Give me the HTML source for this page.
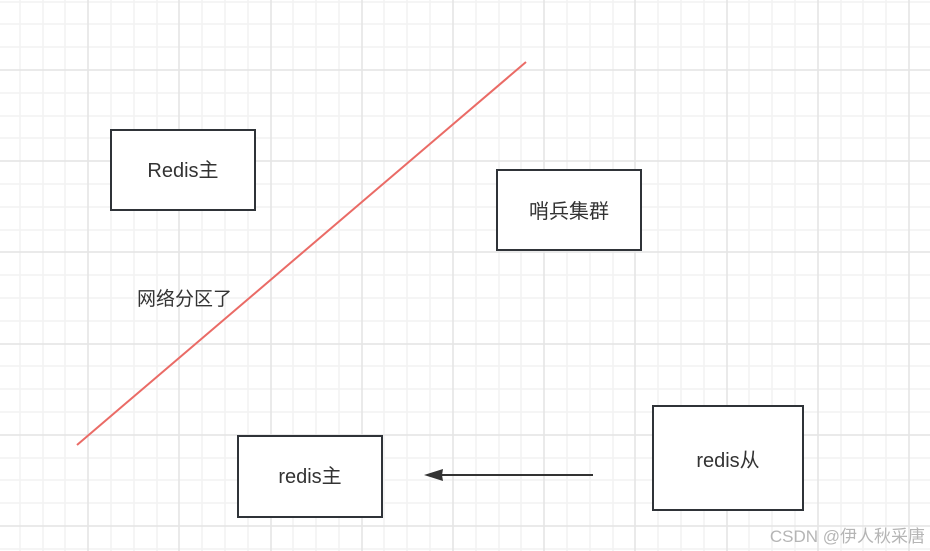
<!DOCTYPE html>
<html><head><meta charset="utf-8"><style>
html,body{margin:0;padding:0;background:#fff;width:930px;height:551px;overflow:hidden}
svg text{font-family:"Liberation Sans","Noto Sans CJK SC",sans-serif}
</style></head><body>
<svg width="930" height="551" xmlns="http://www.w3.org/2000/svg">
<rect width="930" height="551" fill="#fff"/>
<path stroke="#f2f2f2" stroke-width="1.5" fill="none" d="
M20 0V551M43 0V551M65 0V551M111 0V551M134 0V551M157 0V551M202 0V551M225 0V551M248 0V551M293 0V551M316 0V551M339 0V551M384 0V551M407 0V551M430 0V551M476 0V551M499 0V551M521 0V551M567 0V551M590 0V551M613 0V551M658 0V551M681 0V551M704 0V551M749 0V551M772 0V551M795 0V551M841 0V551M863 0V551M886 0V551
M0 2H930M0 24H930M0 47H930M0 93H930M0 116H930M0 138H930M0 184H930M0 207H930M0 230H930M0 275H930M0 298H930M0 321H930M0 366H930M0 389H930M0 412H930M0 458H930M0 480H930M0 503H930M0 549H930"/>
<path stroke="#e4e4e4" stroke-width="1.5" fill="none" d="
M88 0V551M179 0V551M271 0V551M362 0V551M453 0V551M544 0V551M635 0V551M727 0V551M818 0V551M909 0V551
M0 70H930M0 161H930M0 252H930M0 344H930M0 435H930M0 526H930"/>
<g fill="#fff" stroke="#2f3338" stroke-width="2">
<rect x="111" y="130" width="144" height="80"/>
<rect x="497" y="170" width="144" height="80"/>
<rect x="238" y="436" width="144" height="81"/>
<rect x="653" y="406" width="150" height="104"/>
</g>
<line x1="77" y1="445" x2="526" y2="62" stroke="#ea6b66" stroke-width="2"/>
<line x1="593" y1="475" x2="440" y2="475" stroke="#333" stroke-width="2"/>
<path d="M424 475L443 469L442 475L443 481Z" fill="#333"/>
<g font-size="20" fill="#333" text-anchor="middle">
<text x="183" y="177">Redis主</text>
<text x="569" y="218">哨兵集群</text>
<text x="310" y="483">redis主</text>
<text x="728" y="467">redis从</text>
</g>
<text x="137" y="305" font-size="19" fill="#333">网络分区了</text>
<text x="925" y="542" font-size="17" fill="#b5b5b5" text-anchor="end">CSDN @伊人秋采唐</text>
</svg>
</body></html>
